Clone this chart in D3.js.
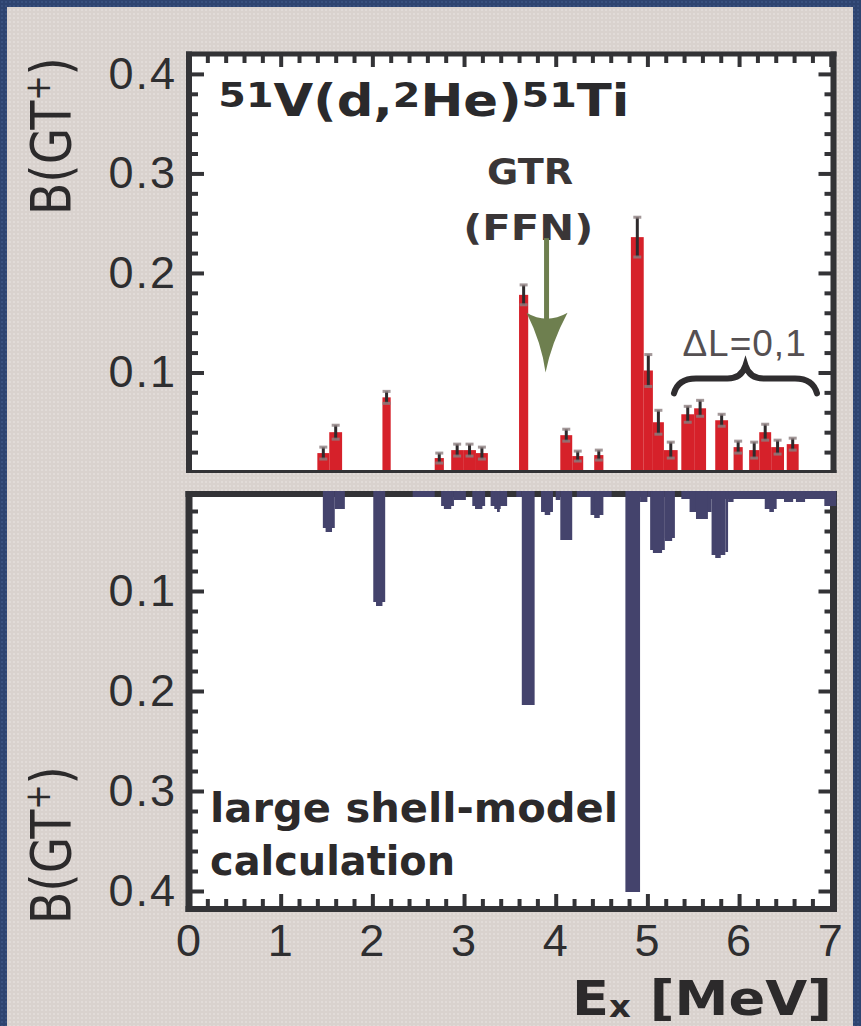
<!DOCTYPE html>
<html>
<head>
<meta charset="utf-8">
<script src="https://cdn.jsdelivr.net/npm/d3@7"></script>
<style>
  body { margin: 0; background: #dad3cf; }
  svg { display: block; }
</style>
</head>
<body>
<svg id="chart" width="861" height="1026"></svg>
<script>
// Measured GT+ strength, 51V(d,2He)51Ti: energy bins [lo, hi] in MeV, B(GT+) and its error
const expLo  = [1.40, 1.53, 2.11, 2.68, 2.86, 2.99, 3.13, 3.60, 4.05, 4.18, 4.42, 4.82, 4.96, 5.06, 5.18, 5.37, 5.51, 5.74, 5.94, 6.11, 6.22, 6.35, 6.52];
const expHi  = [1.53, 1.67, 2.20, 2.78, 2.99, 3.13, 3.26, 3.70, 4.18, 4.30, 4.52, 4.96, 5.06, 5.18, 5.33, 5.51, 5.64, 5.88, 6.04, 6.22, 6.35, 6.49, 6.65];
const expB   = [0.019, 0.040, 0.075, 0.014, 0.022, 0.022, 0.019, 0.178, 0.037, 0.016, 0.017, 0.236, 0.102, 0.050, 0.022, 0.058, 0.064, 0.052, 0.025, 0.022, 0.040, 0.025, 0.028];
const expErr = [0.006, 0.007, 0.006, 0.005, 0.006, 0.006, 0.006, 0.010, 0.006, 0.005, 0.005, 0.020, 0.016, 0.012, 0.008, 0.008, 0.008, 0.006, 0.006, 0.008, 0.008, 0.007, 0.006];

// Large-scale shell-model GT+ strength, same binning convention
const calcLo = [1.46, 1.49, 1.59, 2.01, 2.04, 2.44, 2.75, 2.78, 2.89, 3.09, 3.12, 3.29, 3.33, 3.36, 3.57, 3.63, 3.84, 3.88, 4.00, 4.05, 4.23, 4.38, 4.42, 4.76, 4.92, 5.00, 5.03, 5.06, 5.19, 5.19, 5.37, 5.46, 5.53, 5.70, 5.74, 5.85, 5.88, 6.28, 6.33, 6.49, 6.62, 6.93];
const calcHi = [1.59, 1.56, 1.70, 2.14, 2.11, 2.68, 2.89, 2.86, 3.02, 3.23, 3.20, 3.47, 3.40, 3.39, 3.63, 3.77, 3.97, 3.94, 4.05, 4.18, 4.61, 4.52, 4.48, 4.92, 5.00, 5.03, 5.19, 5.16, 5.30, 5.27, 7.06, 5.70, 5.66, 5.85, 5.80, 5.88, 5.94, 6.41, 6.38, 6.59, 6.72, 7.06];
const calcB  = [0.037, 0.041, 0.018, 0.111, 0.115, 0.006, 0.015, 0.018, 0.009, 0.015, 0.018, 0.015, 0.018, 0.021, 0.006, 0.214, 0.021, 0.024, 0.009, 0.049, 0.006, 0.024, 0.027, 0.401, 0.011, 0.006, 0.059, 0.062, 0.047, 0.050, 0.008, 0.021, 0.028, 0.064, 0.067, 0.061, 0.011, 0.018, 0.021, 0.011, 0.011, 0.015];

const xTickValues = [0, 1, 2, 3, 4, 5, 6, 7];
const yTickValues = [0.1, 0.2, 0.3, 0.4];

const INK = "#333336", RED = "#d6212a", NAVY = "#44436c";
const NUM_FONT = "'Liberation Sans', Arial, sans-serif";
const HAND_FONT = "'DejaVu Sans', sans-serif";

const svg = d3.select("#chart");

// ---------- background ----------
const defs = svg.append("defs");
const bgPat = defs.append("pattern").attr("id", "bgdots").attr("width", 4).attr("height", 4)
  .attr("patternUnits", "userSpaceOnUse");
bgPat.append("rect").attr("width", 4).attr("height", 4).attr("fill", "#d9d2ce");
bgPat.append("rect").attr("x", 1).attr("y", 1).attr("width", 2).attr("height", 2).attr("fill", "#e1dbd8");
const bluePat = defs.append("pattern").attr("id", "bluedots").attr("width", 4).attr("height", 4)
  .attr("patternUnits", "userSpaceOnUse");
bluePat.append("rect").attr("width", 4).attr("height", 4).attr("fill", "#2e4470");
bluePat.append("rect").attr("x", 1).attr("y", 1).attr("width", 2).attr("height", 2).attr("fill", "#38507e");

svg.append("rect").attr("width", 861).attr("height", 1026).attr("fill", "url(#bgdots)");
svg.append("rect").attr("x", 0).attr("y", 0).attr("width", 7).attr("height", 1026).attr("fill", "url(#bluedots)");
svg.append("rect").attr("x", 0).attr("y", 0).attr("width", 861).attr("height", 7).attr("fill", "url(#bluedots)");
svg.append("rect").attr("x", 853).attr("y", 0).attr("width", 8).attr("height", 1026).attr("fill", "url(#bluedots)");

// ---------- scales ----------
const x = d3.scaleLinear().domain([0, 7.03]).range([189, 833.5]);
const yTop = d3.scaleLinear().domain([0, 0.42]).range([472, 54]);
const yBot = d3.scaleLinear().domain([0, 0.418]).range([491, 909]);

const X0 = x(0), X1 = x(7.03);

const minorX = d3.range(1, 36).map(i => i * 0.2).filter(v => Math.abs(v - Math.round(v)) > 1e-6);
const minorY = d3.range(1, 21).map(i => i * 0.02).filter((v, i) => (i + 1) % 5 !== 0);

function styleAxis(g, showText) {
  g.select(".domain").remove();
  g.selectAll(".tick line").attr("stroke", INK).attr("stroke-width", 4);
  if (showText) {
    g.selectAll(".tick text").attr("fill", "#2e2e30").attr("font-family", NUM_FONT)
      .attr("font-size", 45).attr("letter-spacing", 2);
  } else {
    g.selectAll(".tick text").remove();
  }
}

// ---------- upper panel: experiment ----------
const upper = svg.append("g");
upper.append("rect").attr("x", X0).attr("y", yTop(0.42)).attr("width", X1 - X0)
  .attr("height", yTop(0) - yTop(0.42)).attr("fill", "#ffffff");

const expRows = expB.map((b, i) => ({ lo: expLo[i], hi: expHi[i], b, e: expErr[i] }));
upper.selectAll("rect.exp").data(expRows).join("rect").attr("class", "exp")
  .attr("x", d => x(d.lo)).attr("width", d => x(d.hi) - x(d.lo))
  .attr("y", d => yTop(d.b)).attr("height", d => yTop(0) - yTop(d.b))
  .attr("fill", RED);

// error bars
const eb = upper.selectAll("g.err").data(expRows).join("g").attr("class", "err");
eb.append("line").attr("x1", d => x((d.lo + d.hi) / 2)).attr("x2", d => x((d.lo + d.hi) / 2))
  .attr("y1", d => yTop(d.b + d.e)).attr("y2", d => yTop(d.b - d.e))
  .attr("stroke", "#2e2a2c").attr("stroke-width", 3);
["+", "-"].forEach(s => {
  eb.append("line")
    .attr("x1", d => x((d.lo + d.hi) / 2) - 4).attr("x2", d => x((d.lo + d.hi) / 2) + 4)
    .attr("y1", d => yTop(s === "+" ? d.b + d.e : d.b - d.e))
    .attr("y2", d => yTop(s === "+" ? d.b + d.e : d.b - d.e))
    .attr("stroke", "#8d7f80").attr("stroke-width", 3).attr("opacity", 0.8);
});

// axes of upper panel
upper.append("g").attr("transform", `translate(${X0},0)`)
  .call(d3.axisLeft(yTop).tickValues(yTickValues).tickSize(-15).tickPadding(12).tickFormat(d3.format(".1f")))
  .call(g => styleAxis(g, true));
upper.append("g").attr("transform", `translate(${X0},0)`)
  .call(d3.axisLeft(yTop).tickValues(minorY).tickSize(-9)).call(g => styleAxis(g, false));
upper.append("g").attr("transform", `translate(${X1},0)`)
  .call(d3.axisRight(yTop).tickValues(yTickValues).tickSize(-15)).call(g => styleAxis(g, false));
upper.append("g").attr("transform", `translate(${X1},0)`)
  .call(d3.axisRight(yTop).tickValues(minorY).tickSize(-9)).call(g => styleAxis(g, false));
upper.append("g").attr("transform", `translate(0,${yTop(0.42)})`)
  .call(d3.axisTop(x).tickValues(xTickValues.slice(1)).tickSize(-13)).call(g => styleAxis(g, false));
upper.append("g").attr("transform", `translate(0,${yTop(0.42)})`)
  .call(d3.axisTop(x).tickValues(minorX).tickSize(-9)).call(g => styleAxis(g, false));

// frame
upper.append("line").attr("x1", X0).attr("x2", X0).attr("y1", yTop(0.42) - 2.5).attr("y2", yTop(0) + 1)
  .attr("stroke", INK).attr("stroke-width", 6);
upper.append("line").attr("x1", X1).attr("x2", X1).attr("y1", yTop(0.42) - 2.5).attr("y2", yTop(0) + 1)
  .attr("stroke", INK).attr("stroke-width", 6);
upper.append("line").attr("x1", X0 - 3).attr("x2", X1 + 3).attr("y1", yTop(0.42)).attr("y2", yTop(0.42))
  .attr("stroke", INK).attr("stroke-width", 5);
upper.append("line").attr("x1", X0 - 3).attr("x2", X1 + 3).attr("y1", yTop(0) - 0.5).attr("y2", yTop(0) - 0.5)
  .attr("stroke", INK).attr("stroke-width", 3);

// title
const title = upper.append("text").attr("x", x(0.32)).attr("y", yTop(0.358))
  .attr("font-family", HAND_FONT).attr("font-weight", "bold").attr("fill", "#2a2a2c");
[["51", 34, -9], ["V(d,", 44, 9], ["2", 34, -9], ["He)", 44, 9], ["51", 34, -9], ["Ti", 44, 9]]
  .forEach(([t, fs, dy]) => title.append("tspan").attr("font-size", fs).attr("dy", dy).text(t));
title.attr("textLength", 411).attr("lengthAdjust", "spacingAndGlyphs");

// GTR (FFN) marker
upper.append("text").attr("x", x(3.72)).attr("y", yTop(0.289)).attr("text-anchor", "middle")
  .attr("font-family", HAND_FONT).attr("font-weight", "bold").attr("font-size", 35).attr("fill", "#3a3637")
  .attr("textLength", 86).attr("lengthAdjust", "spacingAndGlyphs").text("GTR");
upper.append("text").attr("x", x(3.7)).attr("y", yTop(0.233)).attr("text-anchor", "middle")
  .attr("font-family", HAND_FONT).attr("font-weight", "bold").attr("font-size", 35).attr("fill", "#3a3637")
  .attr("textLength", 130).attr("lengthAdjust", "spacingAndGlyphs").text("(FFN)");
const ax = x(3.9);
upper.append("line").attr("x1", ax).attr("x2", ax).attr("y1", yTop(0.235)).attr("y2", yTop(0.152))
  .attr("stroke", "#6e7f4f").attr("stroke-width", 5);
upper.append("path")
  .attr("d", `M${ax - 20},${yTop(0.16)} Q${ax},${yTop(0.148)} ${ax + 21},${yTop(0.16)} Q${ax + 5},${yTop(0.13)} ${ax - 1},${yTop(0.1)} Q${ax - 5},${yTop(0.13)} ${ax - 20},${yTop(0.16)} Z`)
  .attr("fill", "#6e7f4f");

// ΔL = 0,1 bracket
upper.append("text").attr("x", x(6.06)).attr("y", yTop(0.117)).attr("text-anchor", "middle")
  .attr("font-family", NUM_FONT).attr("font-size", 37).attr("fill", "#555052")
  .attr("letter-spacing", 1).text("\u0394L=0,1");
const bl = x(5.29), br = x(6.85), bm = x(6.07);
const yTip = yTop(0.079), yArm = yTop(0.094), yPeak = yTop(0.107);
upper.append("path")
  .attr("d", `M${bl},${yTip} Q${bl + 4},${yArm} ${bl + 22},${yArm} L${bm - 18},${yArm} Q${bm - 4},${yArm} ${bm},${yPeak} Q${bm + 4},${yArm} ${bm + 18},${yArm} L${br - 22},${yArm} Q${br - 4},${yArm} ${br},${yTip}`)
  .attr("fill", "none").attr("stroke", "#2f2d2f").attr("stroke-width", 6).attr("stroke-linecap", "round");

// ---------- lower panel: shell model ----------
const lower = svg.append("g");
lower.append("rect").attr("x", X0).attr("y", yBot(0)).attr("width", X1 - X0)
  .attr("height", yBot(0.418) - yBot(0)).attr("fill", "#ffffff");

lower.append("g").attr("transform", `translate(${X0},0)`)
  .call(d3.axisLeft(yBot).tickValues(yTickValues).tickSize(-15).tickPadding(12).tickFormat(d3.format(".1f")))
  .call(g => styleAxis(g, true));
lower.append("g").attr("transform", `translate(${X0},0)`)
  .call(d3.axisLeft(yBot).tickValues(minorY).tickSize(-9)).call(g => styleAxis(g, false));
lower.append("g").attr("transform", `translate(${X1},0)`)
  .call(d3.axisRight(yBot).tickValues(yTickValues).tickSize(-15)).call(g => styleAxis(g, false));
lower.append("g").attr("transform", `translate(${X1},0)`)
  .call(d3.axisRight(yBot).tickValues(minorY).tickSize(-9)).call(g => styleAxis(g, false));
lower.append("g").attr("transform", `translate(0,${yBot(0.418)})`)
  .call(d3.axisBottom(x).tickValues(xTickValues).tickSize(-15).tickPadding(15).tickFormat(d3.format("d")))
  .call(g => styleAxis(g, true))
  .call(g => g.selectAll(".tick line").filter(d => d === 0 || d === 7).remove());
lower.append("g").attr("transform", `translate(0,${yBot(0.418)})`)
  .call(d3.axisBottom(x).tickValues(minorX).tickSize(-10)).call(g => styleAxis(g, false));

lower.append("line").attr("x1", X0).attr("x2", X0).attr("y1", yBot(0)).attr("y2", yBot(0.418) + 3)
  .attr("stroke", INK).attr("stroke-width", 7);
lower.append("line").attr("x1", X1).attr("x2", X1).attr("y1", yBot(0)).attr("y2", yBot(0.418) + 3)
  .attr("stroke", INK).attr("stroke-width", 7);
lower.append("line").attr("x1", X0 - 3.5).attr("x2", X1 + 3.5).attr("y1", yBot(0) + 3).attr("y2", yBot(0) + 3)
  .attr("stroke", INK).attr("stroke-width", 6);
lower.append("line").attr("x1", X0 - 3.5).attr("x2", X1 + 3.5).attr("y1", yBot(0.418)).attr("y2", yBot(0.418))
  .attr("stroke", INK).attr("stroke-width", 6);

const calcRows = calcB.map((b, i) => ({ lo: calcLo[i], hi: calcHi[i], b }));
lower.selectAll("rect.calc").data(calcRows).join("rect").attr("class", "calc")
  .attr("x", d => x(d.lo)).attr("width", d => x(d.hi) - x(d.lo))
  .attr("y", yBot(0)).attr("height", d => yBot(d.b) - yBot(0))
  .attr("fill", NAVY);

lower.append("text").attr("x", x(0.23)).attr("y", yBot(0.331))
  .attr("font-family", HAND_FONT).attr("font-weight", "bold").attr("font-size", 40)
  .attr("fill", "#2c2a2b").attr("textLength", 408).attr("lengthAdjust", "spacingAndGlyphs")
  .text("large shell-model");
lower.append("text").attr("x", x(0.23)).attr("y", yBot(0.384))
  .attr("font-family", HAND_FONT).attr("font-weight", "bold").attr("font-size", 40)
  .attr("fill", "#2c2a2b").attr("textLength", 245).attr("lengthAdjust", "spacingAndGlyphs")
  .text("calculation");

// ---------- axis titles ----------
function yTitle(cy) {
  const t = svg.append("text")
    .attr("transform", `translate(70,${cy}) rotate(-90)`)
    .attr("text-anchor", "middle")
    .attr("font-family", HAND_FONT).attr("font-size", 56).attr("fill", "#2c2a2b")
    .attr("textLength", 158).attr("lengthAdjust", "spacingAndGlyphs");
  t.append("tspan").text("B(GT");
  t.append("tspan").attr("font-size", 36).attr("dy", -20).text("+");
  t.append("tspan").attr("dy", 20).text(")");
}
yTitle(136);
yTitle(845);

const xt = svg.append("text").attr("x", 832).attr("y", 1015).attr("text-anchor", "end")
  .attr("font-family", HAND_FONT).attr("font-weight", "bold").attr("font-size", 48).attr("fill", "#2c2a2b")
  .attr("textLength", 260).attr("lengthAdjust", "spacingAndGlyphs");
xt.append("tspan").text("E");
xt.append("tspan").attr("font-size", 30).attr("dy", 2).text("x");
xt.append("tspan").attr("dy", -2).text(" [MeV]");
</script>
</body>
</html>
